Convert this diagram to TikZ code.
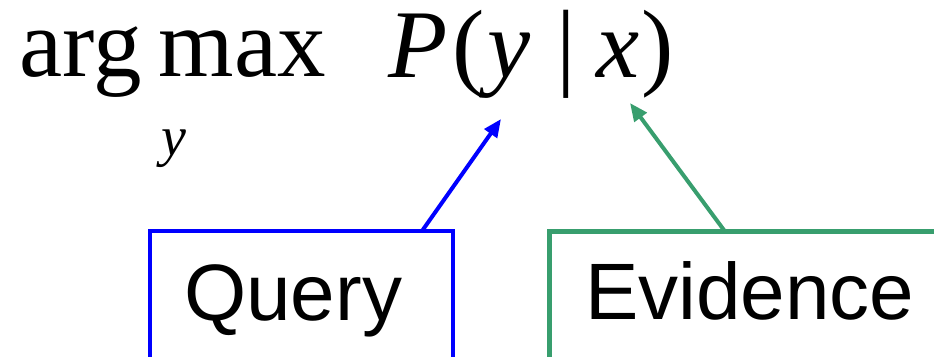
\documentclass[tikz,border=0pt]{standalone}
\usepackage{fontspec}
\setmainfont{Liberation Serif}
\newfontfamily\arialfont{Liberation Sans}
\usetikzlibrary{arrows.meta}
\definecolor{qblue}{RGB}{0,0,255}
\definecolor{egreen}{RGB}{56,158,110}
\tikzset{
  mathbig/.style={inner sep=0pt, anchor=base west, font=\fontsize{97}{100}\selectfont},
  mathsub/.style={inner sep=0pt, anchor=base west, font=\fontsize{56}{60}\selectfont\itshape},
  boxlabel/.style={inner sep=0pt, anchor=base west, font=\arialfont\fontsize{80}{88}\selectfont},
  labelbox/.style={draw, line width=4.5pt, fill=none, inner sep=0pt, outer sep=0pt, anchor=north west},
  pointer/.style={line width=4pt, -{Triangle[length=18pt,width=15pt]}}
}
\begin{document}
\begin{tikzpicture}[x=1pt,y=-1pt]
\useasboundingbox (0,0) rectangle (934,356);
% formula
\node[mathbig] (arg) at (19.5,76) {arg};
\node[mathbig] (max) at (158.5,76) {max};
\node[mathsub] (sub) at (161,155.5) {y};
\node[mathbig, font=\fontsize{97}{100}\selectfont\itshape] (P) at (388,77) {P};
\node[mathbig] (lp) at (452,77) {(};
\node[mathbig, font=\fontsize{97}{100}\selectfont\itshape] (yv) at (487,77) {y};
\node[mathbig] (bar) at (556,77) {|};
\node[mathbig, font=\fontsize{97}{100}\selectfont\itshape] (xv) at (596,77) {x};
\node[mathbig] (rp) at (641.5,77) {)};
% boxes
\node[labelbox, draw=qblue, minimum width=303pt, minimum height=200pt] (query) at (150,231) {};
\node[boxlabel] (qtext) at (184,320) {Query};
\node[labelbox, draw=egreen, minimum width=420pt, minimum height=200pt] (evid) at (549.5,231.5) {};
\node[boxlabel] (etext) at (585,319) {Evidence};
% connectors
\coordinate (qfoot) at (422,231);
\coordinate (qtip) at (501,119);
\coordinate (efoot) at (725,231.5);
\coordinate (etip) at (630,103);
\draw[pointer, qblue] (qfoot) -- (qtip);
\draw[pointer, egreen] (efoot) -- (etip);
\end{tikzpicture}
\end{document}
